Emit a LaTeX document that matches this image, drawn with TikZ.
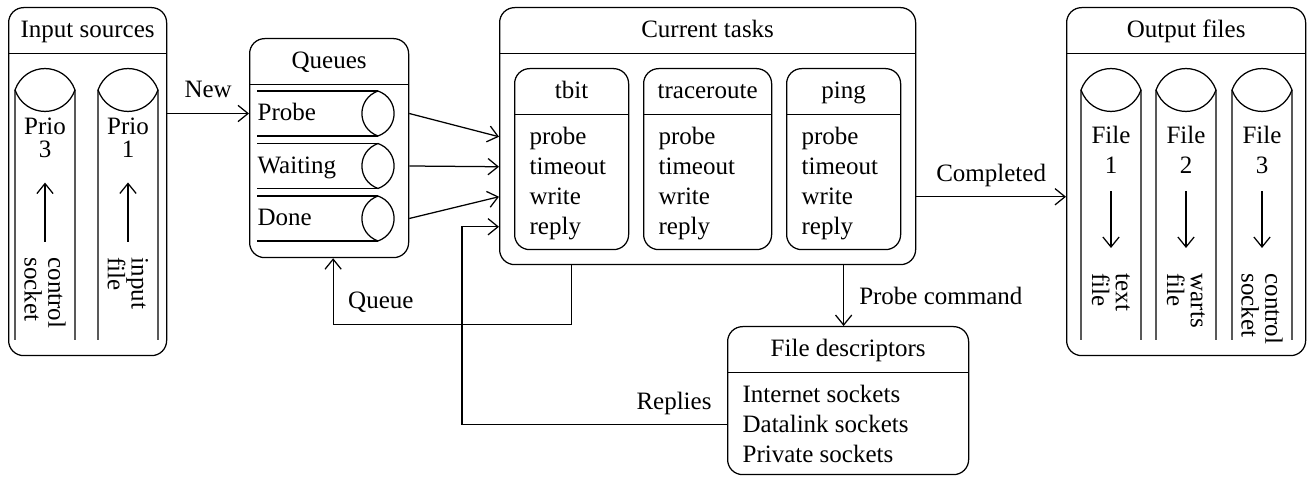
\documentclass[tikz,border=0pt]{standalone}
\usepackage{fontspec}
\setmainfont{Liberation Serif}
\usetikzlibrary{shapes,arrows.meta,calc}
\tikzstyle{line} = [draw, -{Straight Barb[length=4pt,width=6.5pt]}]
\tikzstyle{frame} = [draw, rectangle, rounded corners=6pt, inner sep=0pt, anchor=north west]
\tikzstyle{boxtitle} = [anchor=north, minimum height=18pt, inner sep=0pt, text height=7.5pt, text depth=1.5pt]
\tikzstyle{entry} = [anchor=base west, inner sep=0pt, text height=7.5pt, text depth=1.5pt]
\tikzstyle{side} = [rotate=-90, anchor=west, align=left, inner sep=0pt]
\tikzstyle{tag} = [above, inner ysep=6pt, text depth=0pt]
\tikzstyle{lens} = [bend left=70, looseness=1.3]

\begin{document}
\begin{tikzpicture}[x=0.4pt, y=-0.4pt, line width=0.5pt]
        \useasboundingbox (0,0) rectangle (1307,477);
        % boxes
        \node[frame, minimum width=63.2pt, minimum height=139.2pt] (input) at (8,7) {};
        \node[boxtitle] (input-t) at (input.north) {Input sources};
        \node[frame, minimum width=63.6pt, minimum height=87.6pt] (queues) at (249,38) {};
        \node[boxtitle] (queues-t) at (queues.north) {Queues};
        \node[frame, minimum width=166.4pt, minimum height=102.8pt] (tasks) at (499,7) {};
        \node[boxtitle] (tasks-t) at (tasks.north) {Current tasks};
        \node[frame, minimum width=45.6pt, minimum height=72.4pt] (tbit) at (514,68) {};
        \node[boxtitle] (tbit-t) at (tbit.north) {tbit};
        \node[frame, minimum width=51.2pt, minimum height=72.4pt] (trace) at (643,68) {};
        \node[boxtitle] (trace-t) at (trace.north) {traceroute};
        \node[frame, minimum width=45.6pt, minimum height=72.4pt] (ping) at (786,68) {};
        \node[boxtitle] (ping-t) at (ping.north) {ping};
        \node[frame, minimum width=95.6pt, minimum height=139.2pt] (output) at (1066,7) {};
        \node[boxtitle] (output-t) at (output.north) {Output files};
        \node[frame, minimum width=96.4pt, minimum height=59.2pt] (fd) at (727,326) {};
        \node[boxtitle] (fd-t) at (fd.north) {File descriptors};
        \foreach \b in {input,queues,tasks,tbit,trace,ping,output,fd}
            \draw (\b.west |- \b-t.south) -- (\b.east |- \b-t.south);

        % box contents
        \foreach \b in {tbit,trace,ping}
            \foreach \w [count=\i] in {probe,timeout,write,reply}
                \node[entry] (\b\i) at ($(\b.west |- \b-t.south)+(15,30*\i)$) {\w};
        \foreach \w [count=\i] in {Internet sockets,Datalink sockets,Private sockets}
            \node[entry] (fd\i) at ($(fd.west |- fd-t.south)+(15,30*\i)$) {\w};
        \foreach \w [count=\i, evaluate=\i as \yy using 61+52.5*\i] in {Probe,Waiting,Done} {
            \draw (257,\yy-22.5) -- (378,\yy-22.5) (257,\yy+22.5) -- (378,\yy+22.5);
            \draw (378,\yy-22.5) to[lens] (378,\yy+22.5) to[lens] (378,\yy-22.5);
            \node[entry] (q\i) at (257,\yy+7.5) {\w};
        }
        \foreach \x/\k/\s [count=\i] in {45/3/{control\\[-2.5pt]socket}, 128/1/{input\\[-2.5pt]file}} {
            \draw (\x-30,340) -- (\x-30,90) to[lens] (\x+30,90) -- (\x+30,340);
            \draw (\x+30,90) to[lens] (\x-30,90);
            \node[align=center] (prio\i) at (\x,138) {Prio\\[-2.8pt]\k};
            \node[side] (src\i) at (\x,257) {\s};
            \path[line] ([yshift=6pt]src\i.west) -- ([yshift=-6.3pt]prio\i.south);
        }
        \foreach \x/\k/\s [count=\i] in {1111/1/{text\\[-2.5pt]file}, 1186/2/{warts\\[-2.5pt]file}, 1262/3/{control\\[-2.5pt]socket}} {
            \draw (\x-30,340) -- (\x-30,90) to[lens] (\x+30,90) -- (\x+30,340);
            \draw (\x+30,90) to[lens] (\x-30,90);
            \node[align=center] (file\i) at (\x,150) {File\\\k};
            \node[side] (out\i) at (\x,273) {\s};
            \path[line] ([yshift=-3.5pt]file\i.south) -- ([yshift=10pt]out\i.west);
        }

        % connectors
        \path[line] (input.east |- q1) -- node[tag] {New} (queues.west |- q1);
        \path[line] (queues.east |- q1) -- (tasks.west |- tbit1);
        \path[line] (queues.east |- q2) -- (tasks.west |- tbit2);
        \path[line] (queues.east |- q3) -- (tasks.west |- tbit3);
        \path[line] (fd.west |- fd2) -| node[tag, pos=0.1] {Replies} ($(tasks.west |- tbit4)+(-37,0)$) -- (tasks.west |- tbit4);
        \path[line] (tbit.south |- tasks.south) -- ++(0,59) -| node[tag, pos=0.4] {Queue} ($(queues.south)+(4,0)$);
        \path[line] (ping.south |- tasks.south) -- node[right, inner xsep=6pt] {Probe command} (ping.south |- fd.north);
        \path[line] (tasks.east |- tbit3) -- node[tag] {Completed} (output.west |- tbit3);
    \end{tikzpicture}
\end{document}
